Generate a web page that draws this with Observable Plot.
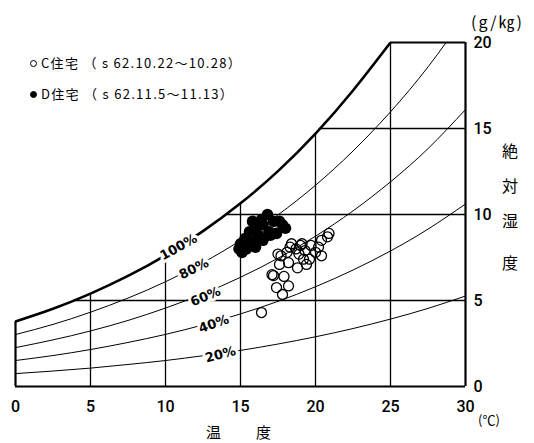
<!DOCTYPE html>
<html><head><meta charset="utf-8">
<script src="https://cdn.jsdelivr.net/npm/d3@7"></script>
<script src="https://cdn.jsdelivr.net/npm/@observablehq/plot@0.6"></script>
<style>
body{margin:0;background:#fff;}
#wrap{position:relative;width:534px;height:443px;overflow:hidden;font-family:"Noto Sans CJK JP",sans-serif;color:#000;background:#fff;}
.t{position:absolute;white-space:nowrap;line-height:1;}
.leg{font-size:13px;letter-spacing:1.3px;}
.mk{display:inline-block;width:7px;height:7px;border-radius:50%;border:1.3px solid #000;box-sizing:border-box;margin-right:4px;vertical-align:1px;}
</style></head><body><div id="wrap"></div>
<script>
// temperature (°C) grid of the humidity curves
const temps = [0, 2.5, 5, 7.5, 10, 12.5, 15, 17.5, 20, 22.5, 25, 27.5, 30];
// absolute humidity (g/kg)
const rh100 = [3.78, 4.52, 5.40, 6.43, 7.63, 9.03, 10.65, 12.52, 14.70, 17.21, 20.0];
const rh80  = [3.02, 3.61, 4.32, 5.14, 6.09, 7.20, 8.49, 9.98, 11.70, 13.69, 15.97, 18.58, 21.58];
const rh60  = [2.26, 2.71, 3.23, 3.84, 4.56, 5.39, 6.35, 7.46, 8.74, 10.21, 11.90, 13.83, 16.10];
const rh40  = [1.51, 1.80, 2.15, 2.56, 3.03, 3.58, 4.22, 4.95, 5.80, 6.77, 7.88, 9.15, 10.61];
const rh20  = [0.75, 0.90, 1.07, 1.28, 1.51, 1.79, 2.10, 2.47, 2.89, 3.37, 3.92, 4.54, 5.26];
// grid lines (clipped by the saturation curve)
const gridT = [5, 10, 15, 20, 25];
const gridTTop = [5.40, 7.63, 10.65, 14.70, 20];
const gridH = [5, 10, 15];
const gridHStart = [3.86, 14.0, 20.3];
// curve labels
const rhLabels = ["100%", "80%", "60%", "40%", "20%"];
const rhLabelT = [10.87, 11.89, 12.67, 13.22, 13.67];
const rhLabelH = [8.10, 6.84, 5.23, 3.64, 1.86];
const rhLabelAngle = [-29, -26, -23, -19, -15];
// C住宅 (open circles): temperature, absolute humidity
const cT = [20.9, 20.8, 20.4, 20.2, 20.4, 20.0, 19.7, 19.3, 19.6, 19.1, 19.0, 18.9, 18.7, 18.4, 18.3, 18.1, 17.7, 17.5, 18.2, 18.8, 19.4, 17.6, 17.2, 17.9, 18.2, 17.4, 17.8, 16.4, 19.2, 17.1];
const cH = [8.9, 8.7, 8.5, 8.1, 7.6, 7.8, 8.2, 7.9, 7.4, 8.3, 8.2, 7.7, 8.0, 8.3, 8.1, 7.8, 7.6, 7.7, 7.2, 6.9, 7.1, 7.1, 6.45, 6.4, 5.85, 5.75, 5.35, 4.3, 7.4, 6.5];
// D住宅 (filled circles)
const dT = [16.8, 17.2, 17.8, 18.0, 16.5, 16.0, 16.9, 17.4, 15.6, 16.2, 15.3, 15.8, 16.5, 15.0, 14.9, 15.4, 15.1, 16.0, 17.0, 16.4, 15.8, 17.6];
const dH = [10.0, 9.6, 9.4, 9.2, 9.4, 9.3, 9.0, 8.9, 9.0, 8.8, 8.6, 8.4, 8.5, 8.3, 8.0, 8.0, 7.8, 8.1, 8.8, 9.7, 9.6, 9.6];
// axis ticks
const xTicks = [0, 5, 10, 15, 20, 25, 30];
const yTicks = [0, 5, 10, 15, 20];

const curveRows = [];
[[rh80, "80"], [rh60, "60"], [rh40, "40"], [rh20, "20"]].forEach(([arr, k]) =>
  arr.forEach((h, i) => curveRows.push({T: temps[i], H: h, k})));
const satRows = rh100.map((h, i) => ({T: temps[i], H: h}));
const gridTRows = gridT.map((t, i) => ({t, top: gridTTop[i]}));
const gridHRows = gridH.map((h, i) => ({h, start: gridHStart[i]}));
const labelRows = rhLabels.map((s, i) => ({s, T: rhLabelT[i], H: rhLabelH[i], a: rhLabelAngle[i]}));
const cRows = cT.map((t, i) => ({T: t, H: cH[i]}));
const dRows = dT.map((t, i) => ({T: t, H: dH[i]}));

const chart = Plot.plot({
  width: 534, height: 443,
  marginLeft: 15, marginRight: 69, marginTop: 42, marginBottom: 57,
  style: {fontSize: "16px", fontFamily: "Roboto, sans-serif", fontWeight: 500, background: "#fff", color: "#000", overflow: "visible"},
  x: {domain: [0, 30], ticks: xTicks, tickSize: 0, tickPadding: 14, label: null, tickFormat: d => String(d)},
  y: {domain: [0, 20], ticks: yTicks, axis: "right", tickSize: 0, tickPadding: 8, label: null, tickFormat: d => String(d)},
  marks: [
    Plot.ruleX(gridTRows, {x: "t", y1: 0, y2: "top", stroke: "#000", strokeWidth: 1.3}),
    Plot.ruleY(gridHRows, {y: "h", x1: "start", x2: 30, stroke: "#000", strokeWidth: 1.3}),
    Plot.line(curveRows, {x: "T", y: "H", z: "k", curve: "natural", stroke: "#000", strokeWidth: 1, clip: true}),
    Plot.line(satRows, {x: "T", y: "H", curve: "natural", stroke: "#000", strokeWidth: 2.6, clip: true}),
    Plot.ruleX([0], {y1: 0, y2: rh100[0], stroke: "#000", strokeWidth: 2.2}),
    Plot.ruleX([30], {y1: 0, y2: 20, stroke: "#000", strokeWidth: 2.2}),
    Plot.ruleY([0], {x1: 0, x2: 30, stroke: "#000", strokeWidth: 2.2}),
    Plot.ruleY([20], {x1: 25, x2: 30, stroke: "#000", strokeWidth: 2.2}),
    Plot.text(labelRows, {x: "T", y: "H", text: "s", rotate: "a", fontSize: 13, fontWeight: "bold", fontFamily: "DejaVu Sans, sans-serif", fill: "#000", stroke: "white", strokeWidth: 6}),
    Plot.dot(cRows, {x: "T", y: "H", r: 5, stroke: "#000", strokeWidth: 1.3, fill: "none"}),
    Plot.dot(dRows, {x: "T", y: "H", r: 5.8, fill: "#000", stroke: "none"})
  ]
});
const wrap = document.getElementById("wrap");
wrap.appendChild(chart);

function addText(html, left, top, cls, extra) {
  const d = document.createElement("div");
  d.className = "t " + (cls || "");
  d.innerHTML = html;
  d.style.left = left + "px"; d.style.top = top + "px";
  if (extra) Object.assign(d.style, extra);
  wrap.appendChild(d);
}
addText('<span class="mk"></span>C住宅 （ s 62.10.22〜10.28）', 30, 56, "leg");
addText('<span class="mk" style="background:#000"></span>D住宅 （ s 62.11.5〜11.13）', 30, 87, "leg");
addText('(g/㎏)', 471, 13, "", {fontSize: "16px", letterSpacing: "2px"});
addText('(℃)', 478, 413, "", {fontSize: "13px"});
addText('温', 206, 424, "", {fontSize: "15px"});
addText('度', 256, 424, "", {fontSize: "15px"});
["絶", "対", "湿", "度"].forEach((c, i) => addText(c, 502, [142, 177, 212, 254][i], "", {fontSize: "16px"}));
</script></body></html>
